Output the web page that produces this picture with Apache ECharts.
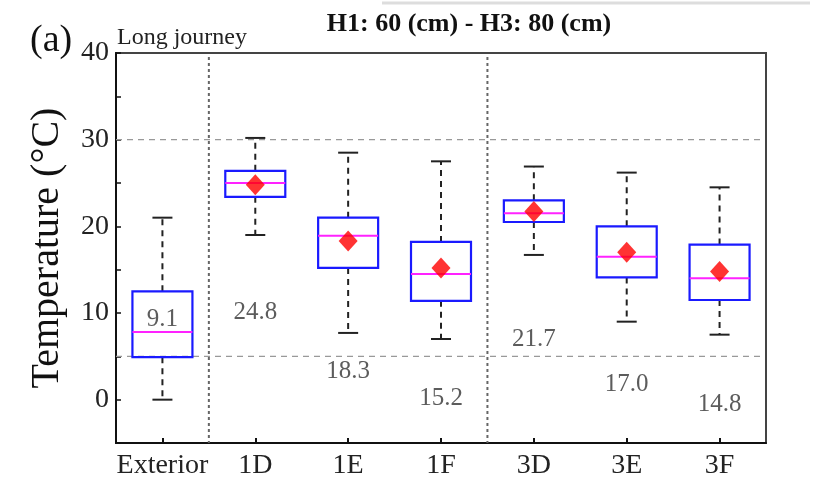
<!DOCTYPE html>
<html>
<head>
<meta charset="utf-8">
<script src="https://cdn.jsdelivr.net/npm/echarts@6/dist/echarts.min.js"></script>
<style>
  html, body { margin: 0; padding: 0; background: #fff; }
  #chart { width: 826px; height: 482px; }
</style>
</head>
<body>
<div id="chart"></div>
<script>
// Temperature distribution per location (°C)
const categories  = ['Exterior', '1D', '1E', '1F', '3D', '3E', '3F'];
const whiskerLow  = [0.0, 19.0, 7.7, 7.0, 16.7, 9.0, 7.5];
const q1          = [4.9, 23.4, 15.2, 11.4, 20.5, 14.1, 11.5];
const median      = [7.8, 25.0, 18.9, 14.5, 21.5, 16.5, 14.0];
const q3          = [12.5, 26.4, 21.0, 18.2, 23.0, 20.0, 17.9];
const whiskerHigh = [21.0, 30.2, 28.5, 27.5, 26.9, 26.2, 24.5];
const means       = [9.1, 24.8, 18.3, 15.2, 21.7, 17.0, 14.8];
const meanMarked  = [false, true, true, true, true, true, true];
// vertical level (°C) at which each mean value is written
const meanTextLevel = [9.3, 10.1, 3.3, 0.1, 6.9, 1.8, -0.5];
const yTickLabels = [0, 10, 20, 30, 40];
const refLevels   = [30, 5];
const groupBreaks = [0.5, 3.5];

const FONT = "'Liberation Serif', 'Times New Roman', serif";

const boxData = categories.map((c, i) => [i, whiskerLow[i], q1[i], median[i], q3[i], whiskerHigh[i]]);
const meanData = categories.map((c, i) => meanMarked[i] ? [i, means[i]] : null).filter(d => d);
const meanTextData = categories.map((c, i) => ({ value: [i, meanTextLevel[i]], text: means[i].toFixed(1) }));

function renderBox(params, api) {
  const i = api.value(0);
  const pLow = api.coord([i, api.value(1)]);
  const pQ1 = api.coord([i, api.value(2)]);
  const pMed = api.coord([i, api.value(3)]);
  const pQ3 = api.coord([i, api.value(4)]);
  const pHigh = api.coord([i, api.value(5)]);
  const x = pLow[0];
  const halfW = 30;
  const capHalf = 10;
  const whiskerStyle = { stroke: '#222', lineWidth: 2, lineDash: [6, 5] };
  const capStyle = { stroke: '#222', lineWidth: 2 };
  return {
    type: 'group',
    children: [
      { type: 'line', shape: { x1: x, y1: pQ3[1], x2: x, y2: pHigh[1] }, style: whiskerStyle },
      { type: 'line', shape: { x1: x, y1: pQ1[1], x2: x, y2: pLow[1] }, style: whiskerStyle },
      { type: 'line', shape: { x1: x - capHalf, y1: pHigh[1], x2: x + capHalf, y2: pHigh[1] }, style: capStyle },
      { type: 'line', shape: { x1: x - capHalf, y1: pLow[1], x2: x + capHalf, y2: pLow[1] }, style: capStyle },
      { type: 'rect', shape: { x: x - halfW, y: pQ3[1], width: 2 * halfW, height: pQ1[1] - pQ3[1] },
        style: { fill: 'rgba(255,255,255,0)', stroke: '#1a1aff', lineWidth: 2.2 } },
      { type: 'line', shape: { x1: x - halfW, y1: pMed[1], x2: x + halfW, y2: pMed[1] },
        style: { stroke: '#ff22ff', lineWidth: 2 } }
    ]
  };
}

function renderBreaks(params, api) {
  const cs = params.coordSys;
  const a = api.coord([0, 0])[0];
  const b = api.coord([1, 0])[0];
  const step = b - a;
  return {
    type: 'group',
    children: groupBreaks.map(g => {
      const x = a + g * step;
      return { type: 'line', shape: { x1: x, y1: cs.y + 4, x2: x, y2: cs.y + cs.height },
               style: { stroke: '#666', lineWidth: 2, lineDash: [3, 3] } };
    })
  };
}

function renderRefLines(params, api) {
  const cs = params.coordSys;
  return {
    type: 'group',
    children: refLevels.map(v => {
      const y = api.coord([0, v])[1];
      return { type: 'line', shape: { x1: cs.x, y1: y, x2: cs.x + cs.width - 4, y2: y },
               style: { stroke: '#999', lineWidth: 1.4, lineDash: [6, 5] } };
    })
  };
}

const chart = echarts.init(document.getElementById('chart'), null, { renderer: 'canvas' });

chart.setOption({
  animation: false,
  backgroundColor: '#fff',
  title: {
    text: 'H1: 60 (cm) - H3: 80 (cm)',
    left: 464, top: 6, textAlign: 'center',
    textStyle: { fontFamily: FONT, fontSize: 26, fontWeight: 'bold', color: '#111' }
  },
  graphic: [
    { type: 'line', shape: { x1: 382, y1: 3, x2: 810, y2: 3 }, style: { stroke: '#ddd', lineWidth: 3 } },
    { type: 'text', left: 30, top: 22, style: { text: '(a)', fontFamily: FONT, fontSize: 38, fill: '#111' } },
    { type: 'text', left: 117, top: 26, style: { text: 'Long journey', fontFamily: FONT, fontSize: 24, fill: '#222' } }
  ],
  grid: {
    left: 116, right: 60, top: 53, bottom: 39,
    show: true, borderColor: '#444', borderWidth: 2, backgroundColor: 'transparent'
  },
  xAxis: {
    type: 'category',
    data: categories,
    boundaryGap: true,
    axisLine: { onZero: false, lineStyle: { color: '#111', width: 2 } },
    axisTick: { show: true, inside: true, alignWithLabel: true, length: 5, lineStyle: { color: '#111', width: 2 } },
    axisLabel: { interval: 0, fontFamily: FONT, fontSize: 28, color: '#222', margin: 9 },
    splitLine: { show: false }
  },
  yAxis: {
    type: 'value',
    min: -5, max: 40, interval: 5,
    name: 'Temperature (°C)',
    nameLocation: 'middle',
    nameGap: 49,
    nameTextStyle: { fontFamily: FONT, fontSize: 40, color: '#111' },
    axisLine: { show: true, lineStyle: { color: '#111', width: 2 } },
    axisTick: { show: true, inside: true, length: 5, lineStyle: { color: '#111', width: 1.5 } },
    axisLabel: { customValues: yTickLabels, fontFamily: FONT, fontSize: 28, color: '#222', margin: 7 },
    splitLine: { show: false }
  },
  series: [
    { type: 'custom', renderItem: renderRefLines, data: [[0, 0]], silent: true, z: 1 },
    { type: 'custom', renderItem: renderBreaks, data: [[0, 0]], silent: true, z: 1 },
    { type: 'custom', renderItem: renderBox, data: boxData, encode: { x: 0, y: [1, 2, 3, 4, 5] }, z: 3 },
    { type: 'scatter', data: meanData, symbol: 'diamond', symbolSize: [19, 21],
      itemStyle: { color: '#ff0000' }, z: 5 },
    { type: 'scatter', data: meanTextData, symbolSize: 0, z: 6,
      label: { show: true, position: 'inside', formatter: p => p.data.text,
               fontFamily: FONT, fontSize: 25, color: '#333' } }
  ]
});
</script>
</body>
</html>
